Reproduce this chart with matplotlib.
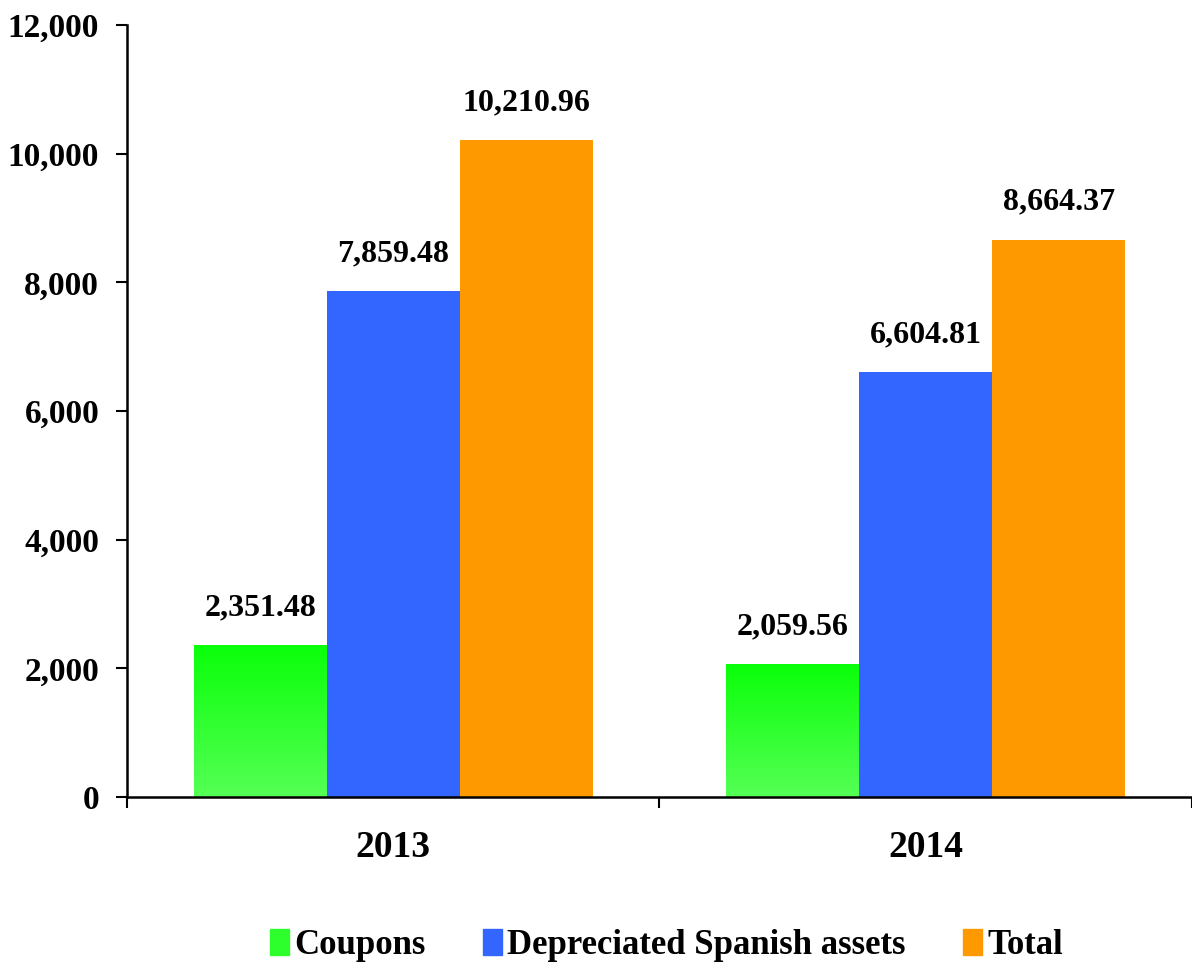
import numpy as np
import matplotlib.pyplot as plt
from matplotlib.patches import Patch
from matplotlib.colors import LinearSegmentedColormap

# data
years = ['2013', '2014']
series = ['Coupons', 'Depreciated Spanish assets', 'Total']
coupons = [2351.48, 2059.56]
depreciated = [7859.48, 6604.81]
total = [10210.96, 8664.37]
colors = ['#2cff2c', '#3366ff', '#ff9900']

plt.rcParams['font.family'] = ['Liberation Serif', 'DejaVu Serif']
plt.rcParams['font.weight'] = 'bold'

fig = plt.figure(figsize=(11.92, 9.66), dpi=100)
ax = fig.add_axes([0.1065, 0.175, 0.8935, 0.799])

x = np.arange(len(years))
w = 0.25
green_cmap = LinearSegmentedColormap.from_list('g', ['#55ff55', '#0aff0a'])
for i, (vals, c) in enumerate(zip([coupons, depreciated, total], colors)):
    pos = x + (i - 1) * w
    bars = ax.bar(pos, vals, width=w, color=c, zorder=2)
    if i == 0:
        # vertical gradient for green bars
        for b in bars:
            b.set_facecolor('none')
            x0, x1 = b.get_x(), b.get_x() + b.get_width()
            grad = np.linspace(0, 1, 256).reshape(-1, 1)
            ax.imshow(grad, cmap=green_cmap, origin='lower', aspect='auto',
                      extent=[x0, x1, 0, b.get_height()], zorder=1)
    for p, v in zip(pos, vals):
        ax.text(p, v + 360, f'{v:,.2f}', ha='center', va='bottom',
                fontsize=23, fontweight='bold')

ax.set_xlim(-0.5, 1.5)
ax.set_ylim(0, 12000)
ax.set_yticks(np.arange(0, 12001, 2000))
ax.set_yticklabels([f'{t:,}' for t in range(0, 12001, 2000)], fontsize=24, fontweight='bold')
ax.set_xticks(x)
ax.set_xticklabels(years, fontsize=27, fontweight='bold')
ax.tick_params(axis='x', which='major', length=0, pad=24)
ax.set_xticks([-0.5, 0.5, 1.5], minor=True)
ax.tick_params(axis='x', which='minor', length=8, width=1.5, direction='out')
ax.tick_params(axis='y', length=8, width=1.5, direction='out', pad=12)

for s in ['top', 'right']:
    ax.spines[s].set_visible(False)
ax.spines['left'].set_linewidth(1.8)
ax.spines['bottom'].set_linewidth(1.8)

handles = [Patch(color=c, label=s) for c, s in zip(colors, series)]
fig.legend(handles=handles, loc='center', bbox_to_anchor=(0.559, 0.021), ncol=3,
           frameon=False, fontsize=25, handlelength=0.55, handleheight=0.75,
           handletextpad=0.15, columnspacing=1.65)

fig.savefig('out.png', dpi=100)
